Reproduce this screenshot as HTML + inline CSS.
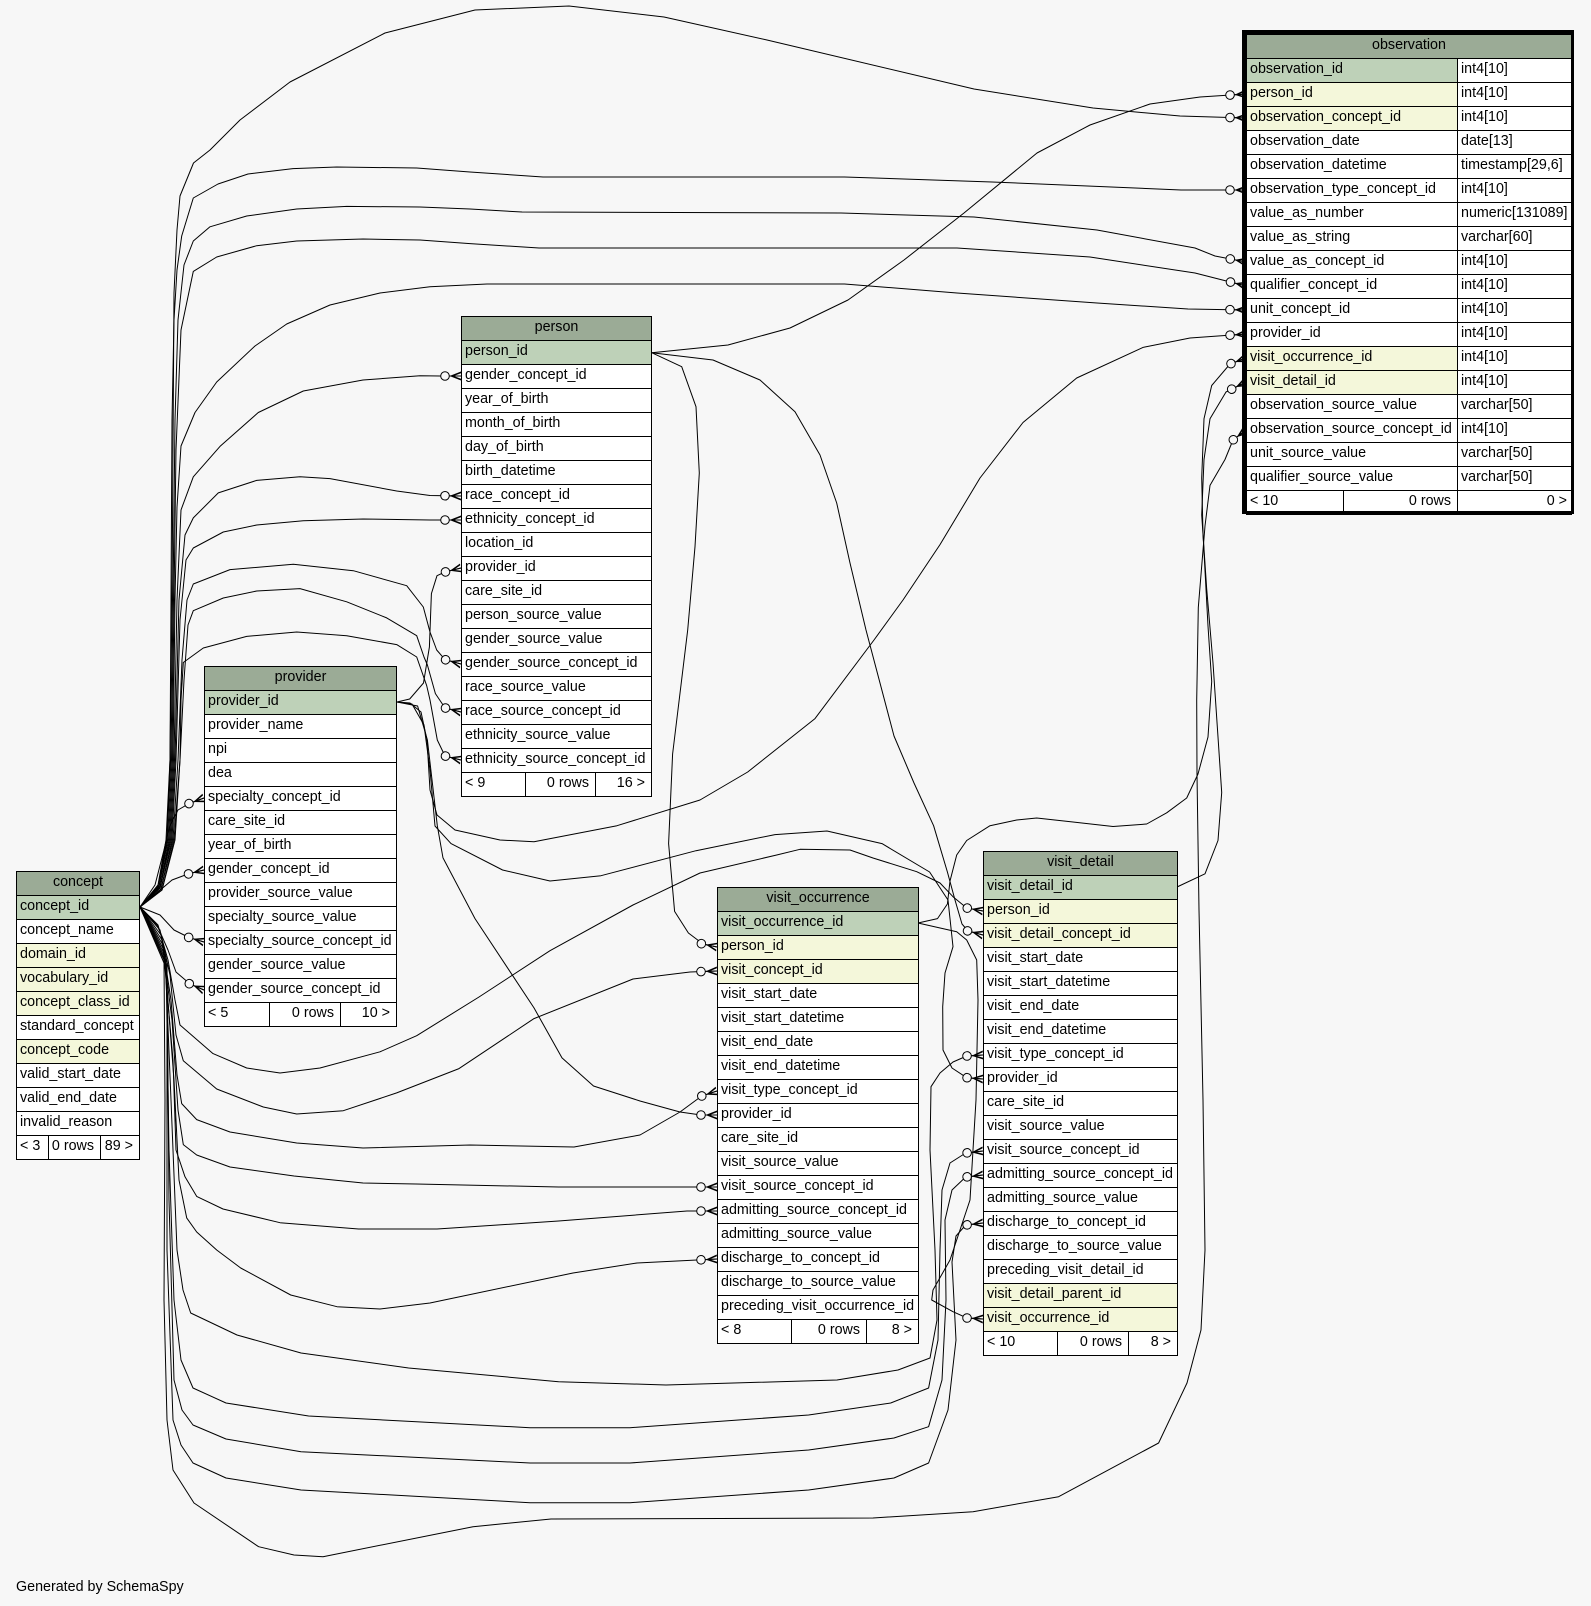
<!DOCTYPE html>
<html><head><meta charset="utf-8">
<style>
html,body{margin:0;padding:0}
body{width:1591px;height:1606px;background:#f7f7f7;position:relative;overflow:hidden;font-family:"Liberation Sans",Arial,Helvetica,sans-serif;color:#000}
svg.e{position:absolute;left:0;top:0;z-index:0}
.t{position:absolute;z-index:1}
.t div{position:absolute;left:0;width:100%;box-sizing:border-box;border:1px solid #000;height:25px;font-size:14.3px;line-height:21px;padding-left:3px;white-space:nowrap;overflow:hidden;background:#fff}
.t div.h{background:#9bab96;text-align:center;padding-left:0}
.t div.pk{background:#bed1b8}
.t div.fk{background:#f4f7da}
.t div.r{text-align:right;padding-right:6px;padding-left:0}
.frame{position:absolute;left:1242px;top:30px;width:332px;height:484px;box-sizing:border-box;border-left:4px solid #000;border-top:4px solid #000;border-right:3px solid #000;border-bottom:3px solid #000;z-index:2}
.gen{position:absolute;left:16px;top:1579px;font-size:14.3px;line-height:16px;white-space:nowrap}
</style></head><body>

<svg class="e" width="1591" height="1606" viewBox="0 0 1591 1606" xmlns="http://www.w3.org/2000/svg">
<defs>
<marker id="cf" markerUnits="userSpaceOnUse" markerWidth="24" markerHeight="14" refX="22" refY="7" orient="auto" overflow="visible">
<circle cx="6" cy="7" r="4.3" fill="#f7f7f7" stroke="#000" stroke-width="1"/>
<path d="M10.5,7 L22,2.5 L22,4.2 L14.5,7 L22,9.8 L22,11.5 Z" fill="#000"/>
<path d="M10.5,7 L22,7" stroke="#000" stroke-width="1"/>
</marker>
</defs>
<g fill="none" stroke="#000" stroke-width="1" stroke-linejoin="round" marker-end="url(#cf)">
<polyline points="140,907 158,885 166,840 170,760 172,600 173,450 174,293 177,230 180,196 193.5,163 210,150 240,120 290,82 385,33 475,10 569,6 664,17 767,40 974,89 1093,108 1180,116 1246,118"/>
<polyline points="140,907 158,886 167,840 170,760 171,600 172,420 174,320 177,270 181.7,236 193.3,198 218,184 248,174 293,168.6 336.7,167 416.7,168 470,172 543,177 844.5,177 992,182 1181,190 1246,190"/>
<polyline points="140,907 159,886 167,840 171,760 173,600 175,420 178,320 184,265 193.3,241 210,226.8 246.7,216 296.7,209 346.7,206.4 420,207 470,209 522,212 841,213 974,217 1097,230 1195,248 1215,256 1246,262"/>
<polyline points="140,907 159,887 168,840 172,760 174,600 176,450 181,330 193.3,271.4 216.7,257 256.7,245.7 296.7,241 363,239 420,240 470,243.6 539,248 957,248 1090,257 1195,273 1246,286"/>
<polyline points="140,907 160,887 169,840 173,760 175,600 177,507 181,446 195,412.5 216.7,382 255,346 286.7,324 330,305 380,293 430,286.8 487,284 844.5,284 957,293 1097,303 1188,309 1246,310"/>
<polyline points="140,907 160,888 170,840 174,760 177,600 181,510 193.3,476.8 220,446.4 258.3,412.5 303.3,391 363,380 420,375.7 440,376 461,376"/>
<polyline points="140,907 160,888 171,840 175,760 179,600 185,535 193.3,517.9 218.3,492.9 256.7,480.4 300,476.8 330,478.6 396.7,491 430,495.5 461,496"/>
<polyline points="140,907 161,889 172,840 176,760 180,620 186,560 193.3,548 223.3,532 256.7,525 303.3,520.7 363,519 430,520 461,520"/>
<polyline points="140,907 161,889 173,840 178,760 182,660 187,600 193.3,584 230,569.6 293.3,564.3 353.3,570.7 406.7,585.7 423.3,607 430,632 436.7,650 445,659.6 461,664"/>
<polyline points="140,907 162,890 174,840 180,760 184,680 188,625 193.3,610.7 223.3,598 256.7,591 300,588.6 346.7,601.8 386.7,617.9 416.7,635.7 424,657 427.4,665 435.4,693.6 445,707.9 461,712"/>
<polyline points="140,907 162,890 175,840 180,760 181,700 183.3,662.5 203.3,648 246.7,636.4 296.7,632 346.7,635.7 396.7,644.6 416.7,657 426.7,685.7 430,700 437.3,740 445,756 461,760"/>
<polyline points="397,702 410,703 421,712 427,740 430,790 437,815 455,830 500,840 534,841.8 617,825.7 700,800 747.7,772 815,718.6 874,640 903,600 940,544.6 980,478 1023,422.5 1076.7,378 1143,347.4 1190,338 1246,334"/>
<polyline points="397,702 412,704 424,725 430,770 435,826 451,843.6 502.6,870 550,881 601,875.7 696,850.7 775,834.6 827,831 882,843.6 929.6,872 948,900 953,946.7 945,973 942.7,1006.7 943,1050 952,1068 966.7,1077.7 983,1079"/>
<polyline points="397,702 409.7,699 423.5,683 429.4,647 431.4,593.6 437,575.7 445,572 461,568"/>
<polyline points="397,702 417.6,706 427.4,740 437.3,825.7 443,857.9 475,918.6 534,1007.9 562,1057.9 593.5,1086 640,1101 680,1112 701,1115 717,1115"/>
<polyline points="140,907 155,885 164,850 170,825 178,810 189,803.6 204,798"/>
<polyline points="140,907 158,892 172,880 188,874 204,870"/>
<polyline points="140,907 160,915 174,930 189,937.5 204,942"/>
<polyline points="140,907 157,925 168,950 176,972 190,984 204,990"/>
<polyline points="140,907 158,925 168,960 175,1000 180,1025 213,1053.6 246.7,1068 280,1073 320,1068 380,1051.8 416.7,1035.7 479,997 550,950.7 633,905 700,873 776.7,855 800,849.3 850,850 873,858 916.7,871.7 940,883 953,896.7 966.7,908 983,911"/>
<polyline points="651.7,352.7 713,360 760,380 795,411.7 820,455 836.7,503 850,563 866,630 894,736 914,783 933.6,825.7 947.4,872 955,900 962,924 968,931 983,935"/>
<polyline points="140,907 160,930 170,975 176,1035 183.3,1060.7 216.7,1089 263.3,1107 296.7,1114 343.3,1110.7 396.7,1092.9 459,1068.6 534,1018.6 633,979 690,972 717,971"/>
<polyline points="140,907 161,935 171,1000 177,1075 181.7,1103.6 196.7,1119.6 230,1132 296.7,1143 363,1148 470,1145 574,1147 640,1135 680,1112 701.7,1096 717,1091"/>
<polyline points="140,907 162,940 172,1020 178,1110 183.3,1144.6 196.7,1155 230,1167 294,1176 363,1183 416,1184 558.6,1187 717,1187"/>
<polyline points="140,907 163,945 173,1060 176,1150 185,1176.8 196.7,1196.4 223,1209 280,1222.7 358.6,1229 437,1229 558.6,1221 687,1211 717,1211"/>
<polyline points="140,907 164,950 174,1080 179,1180 186.7,1217.9 196.7,1232 216.7,1250 240.7,1268 290.7,1295 337,1306.7 380,1309 430,1303 573,1273 637,1263 717,1259"/>
<polyline points="140,907 165,955 171,1100 177,1250 183,1290 190.7,1313 237,1335 301,1353 408.6,1368 558.6,1381.7 666,1385 837,1380 898,1370 930,1358 937,1320 935,1250 930,1150 931,1086.7 940,1073 953,1062 966.7,1056 983,1055"/>
<polyline points="140,907 166,960 169,1150 174,1300 181,1360 193,1388 226,1403 308.6,1416 530,1427.7 630,1427.7 808.6,1415 890.7,1403 928.6,1388 938,1340 940,1250 942,1190 950,1163 965.7,1153 983,1151"/>
<polyline points="140,907 167,965 169,1200 174,1380 182,1410 193,1425 226,1439 301,1451.7 530,1463 630,1463 808.6,1450 894,1438 928.6,1426.7 942,1380 946,1300 945,1220 952,1190 965.7,1177 983,1175"/>
<polyline points="140,907 167,970 167,1250 173,1420 181,1445 193,1463 226,1478 301,1490 530,1502.7 630,1502.7 808.6,1490 894,1478 928.6,1463 948,1410 956,1340 952,1262 956,1236 965.7,1225 983,1223"/>
<polyline points="140,907 164,960 165,1100 164,1300 167,1420 173,1470 194,1503 258.6,1546.7 294,1555 323,1556.7 473,1526.7 551,1519 873,1518 973,1511.7 1058.6,1496.7 1158.6,1443 1187,1383 1201,1330 1205,1250 1203,1100 1199,910 1197,774 1196.7,700 1198.3,607.5 1205,526 1210,485.4 1225,459.5 1233,440 1246,430"/>
<polyline points="918,923 937.5,918.6 947.4,904 950,881 956.7,855 966.7,840.5 990,825.7 1016.7,820 1036.7,818 1073,822 1113,826.5 1146.7,824 1166.7,812.8 1186.7,798 1198,774 1208,737 1211.7,681.5 1208,626 1203,533.5 1201.7,478 1204,418.8 1211.7,385.5 1230,364 1246,358"/>
<polyline points="1177,887 1205,873.8 1218,840.5 1221.7,792.5 1218,737 1213,663 1206.7,589 1201.7,515 1204,459.5 1210,418.8 1226,392 1246,382"/>
<polyline points="918,923 956.7,931.7 966.7,940 976.7,960 978,1000 976,1100 970,1200 950,1260 933,1290 931.7,1300 953,1311.7 967,1318 983,1319"/>
<polyline points="651.7,352.7 728,345 790,328 848,300 904,260 964,213 1037,153 1090,125 1150,104 1200,97 1246,94"/>
<polyline points="651.7,352.7 681.7,366.7 696,406.7 699.3,473 695,546.7 687.7,630 672.6,754 668.6,843.6 674.6,911.4 688.4,933 703,944 717,947"/>
</g>
</svg>

<div class="t" style="left:16px;top:871px;width:124px">
<div class="h" style="top:0">concept</div>
<div class="pk" style="top:24px">concept_id</div>
<div style="top:48px">concept_name</div>
<div class="fk" style="top:72px">domain_id</div>
<div class="fk" style="top:96px">vocabulary_id</div>
<div class="fk" style="top:120px">concept_class_id</div>
<div style="top:144px">standard_concept</div>
<div class="fk" style="top:168px">concept_code</div>
<div style="top:192px">valid_start_date</div>
<div style="top:216px">valid_end_date</div>
<div style="top:240px">invalid_reason</div>
<div style="top:264px;width:33px">&lt; 3</div>
<div class="r" style="top:264px;left:32px;width:53px">0 rows</div>
<div class="r" style="top:264px;left:84px;width:40px">89 &gt;</div>
</div>

<div class="t" style="left:204px;top:666px;width:193px">
<div class="h" style="top:0">provider</div>
<div class="pk" style="top:24px">provider_id</div>
<div style="top:48px">provider_name</div>
<div style="top:72px">npi</div>
<div style="top:96px">dea</div>
<div style="top:120px">specialty_concept_id</div>
<div style="top:144px">care_site_id</div>
<div style="top:168px">year_of_birth</div>
<div style="top:192px">gender_concept_id</div>
<div style="top:216px">provider_source_value</div>
<div style="top:240px">specialty_source_value</div>
<div style="top:264px">specialty_source_concept_id</div>
<div style="top:288px">gender_source_value</div>
<div style="top:312px">gender_source_concept_id</div>
<div style="top:336px;width:66px">&lt; 5</div>
<div class="r" style="top:336px;left:65px;width:72px">0 rows</div>
<div class="r" style="top:336px;left:136px;width:57px">10 &gt;</div>
</div>

<div class="t" style="left:461px;top:316px;width:191px">
<div class="h" style="top:0">person</div>
<div class="pk" style="top:24px">person_id</div>
<div style="top:48px">gender_concept_id</div>
<div style="top:72px">year_of_birth</div>
<div style="top:96px">month_of_birth</div>
<div style="top:120px">day_of_birth</div>
<div style="top:144px">birth_datetime</div>
<div style="top:168px">race_concept_id</div>
<div style="top:192px">ethnicity_concept_id</div>
<div style="top:216px">location_id</div>
<div style="top:240px">provider_id</div>
<div style="top:264px">care_site_id</div>
<div style="top:288px">person_source_value</div>
<div style="top:312px">gender_source_value</div>
<div style="top:336px">gender_source_concept_id</div>
<div style="top:360px">race_source_value</div>
<div style="top:384px">race_source_concept_id</div>
<div style="top:408px">ethnicity_source_value</div>
<div style="top:432px">ethnicity_source_concept_id</div>
<div style="top:456px;width:65px">&lt; 9</div>
<div class="r" style="top:456px;left:64px;width:71px">0 rows</div>
<div class="r" style="top:456px;left:134px;width:57px">16 &gt;</div>
</div>

<div class="t" style="left:717px;top:887px;width:202px">
<div class="h" style="top:0">visit_occurrence</div>
<div class="pk" style="top:24px">visit_occurrence_id</div>
<div class="fk" style="top:48px">person_id</div>
<div class="fk" style="top:72px">visit_concept_id</div>
<div style="top:96px">visit_start_date</div>
<div style="top:120px">visit_start_datetime</div>
<div style="top:144px">visit_end_date</div>
<div style="top:168px">visit_end_datetime</div>
<div style="top:192px">visit_type_concept_id</div>
<div style="top:216px">provider_id</div>
<div style="top:240px">care_site_id</div>
<div style="top:264px">visit_source_value</div>
<div style="top:288px">visit_source_concept_id</div>
<div style="top:312px">admitting_source_concept_id</div>
<div style="top:336px">admitting_source_value</div>
<div style="top:360px">discharge_to_concept_id</div>
<div style="top:384px">discharge_to_source_value</div>
<div style="top:408px">preceding_visit_occurrence_id</div>
<div style="top:432px;width:75px">&lt; 8</div>
<div class="r" style="top:432px;left:74px;width:76px">0 rows</div>
<div class="r" style="top:432px;left:149px;width:53px">8 &gt;</div>
</div>

<div class="t" style="left:983px;top:851px;width:195px">
<div class="h" style="top:0">visit_detail</div>
<div class="pk" style="top:24px">visit_detail_id</div>
<div class="fk" style="top:48px">person_id</div>
<div class="fk" style="top:72px">visit_detail_concept_id</div>
<div style="top:96px">visit_start_date</div>
<div style="top:120px">visit_start_datetime</div>
<div style="top:144px">visit_end_date</div>
<div style="top:168px">visit_end_datetime</div>
<div style="top:192px">visit_type_concept_id</div>
<div style="top:216px">provider_id</div>
<div style="top:240px">care_site_id</div>
<div style="top:264px">visit_source_value</div>
<div style="top:288px">visit_source_concept_id</div>
<div style="top:312px">admitting_source_concept_id</div>
<div style="top:336px">admitting_source_value</div>
<div style="top:360px">discharge_to_concept_id</div>
<div style="top:384px">discharge_to_source_value</div>
<div style="top:408px">preceding_visit_detail_id</div>
<div class="fk" style="top:432px">visit_detail_parent_id</div>
<div class="fk" style="top:456px">visit_occurrence_id</div>
<div style="top:480px;width:75px">&lt; 10</div>
<div class="r" style="top:480px;left:74px;width:72px">0 rows</div>
<div class="r" style="top:480px;left:145px;width:50px">8 &gt;</div>
</div>

<div class="t" style="left:1246px;top:34px;width:326px">
<div class="h" style="top:0">observation</div>
<div class="pk" style="top:24px;width:212px">observation_id</div><div style="top:24px;left:211px;width:115px">int4[10]</div>
<div class="fk" style="top:48px;width:212px">person_id</div><div style="top:48px;left:211px;width:115px">int4[10]</div>
<div class="fk" style="top:72px;width:212px">observation_concept_id</div><div style="top:72px;left:211px;width:115px">int4[10]</div>
<div style="top:96px;width:212px">observation_date</div><div style="top:96px;left:211px;width:115px">date[13]</div>
<div style="top:120px;width:212px">observation_datetime</div><div style="top:120px;left:211px;width:115px">timestamp[29,6]</div>
<div style="top:144px;width:212px">observation_type_concept_id</div><div style="top:144px;left:211px;width:115px">int4[10]</div>
<div style="top:168px;width:212px">value_as_number</div><div style="top:168px;left:211px;width:115px">numeric[131089]</div>
<div style="top:192px;width:212px">value_as_string</div><div style="top:192px;left:211px;width:115px">varchar[60]</div>
<div style="top:216px;width:212px">value_as_concept_id</div><div style="top:216px;left:211px;width:115px">int4[10]</div>
<div style="top:240px;width:212px">qualifier_concept_id</div><div style="top:240px;left:211px;width:115px">int4[10]</div>
<div style="top:264px;width:212px">unit_concept_id</div><div style="top:264px;left:211px;width:115px">int4[10]</div>
<div style="top:288px;width:212px">provider_id</div><div style="top:288px;left:211px;width:115px">int4[10]</div>
<div class="fk" style="top:312px;width:212px">visit_occurrence_id</div><div style="top:312px;left:211px;width:115px">int4[10]</div>
<div class="fk" style="top:336px;width:212px">visit_detail_id</div><div style="top:336px;left:211px;width:115px">int4[10]</div>
<div style="top:360px;width:212px">observation_source_value</div><div style="top:360px;left:211px;width:115px">varchar[50]</div>
<div style="top:384px;width:212px">observation_source_concept_id</div><div style="top:384px;left:211px;width:115px">int4[10]</div>
<div style="top:408px;width:212px">unit_source_value</div><div style="top:408px;left:211px;width:115px">varchar[50]</div>
<div style="top:432px;width:212px">qualifier_source_value</div><div style="top:432px;left:211px;width:115px">varchar[50]</div>
<div style="top:456px;width:98px">&lt; 10</div>
<div class="r" style="top:456px;left:97px;width:115px">0 rows</div>
<div class="r" style="top:456px;left:211px;width:115px;padding-right:4px">0 &gt;</div>
</div>
<div class="frame"></div>

<div class="gen">Generated by SchemaSpy</div>
</body></html>
